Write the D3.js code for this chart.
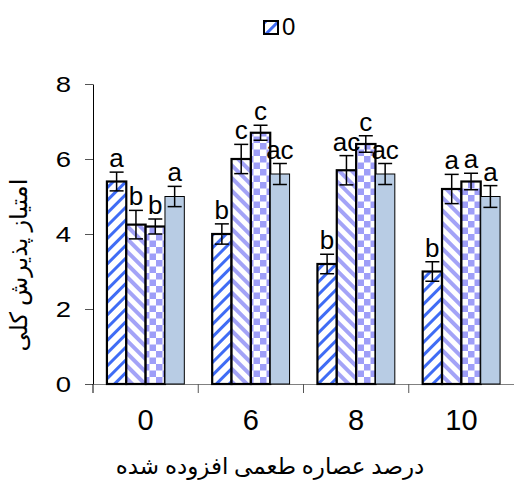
<!DOCTYPE html>
<html>
<head>
<meta charset="utf-8">
<script src="https://cdn.jsdelivr.net/npm/d3@7"></script>
<style>
  body { margin: 0; background: #fff; }
  svg { display: block; }
</style>
</head>
<body>
<div id="chart"></div>
<script>
// ---- data ----
var groups = ["0", "6", "8", "10"];
var series = ["s1", "s2", "s3", "s4"];
var means = [
  [5.4, 4.25, 4.2, 5.0],
  [4.0, 6.0, 6.7, 5.6],
  [3.2, 5.7, 6.4, 5.6],
  [3.0, 5.2, 5.4, 5.0]
];
var errs = [
  [0.25, 0.38, 0.2, 0.27],
  [0.27, 0.39, 0.2, 0.28],
  [0.26, 0.39, 0.22, 0.28],
  [0.26, 0.39, 0.22, 0.29]
];
var letters = [
  ["a", "b", "b", "a"],
  ["b", "c", "c", "ac"],
  ["b", "ac", "c", "ac"],
  ["b", "a", "a", "a"]
];
var yTicks = [0, 2, 4, 6, 8];
var legendLabels = ["0"];
var xTitle = "درصد عصاره طعمی افزوده شده";
var yTitle = "امتیاز پذیرش کلی";

var W = 514, H = 481;
var svg = d3.select("#chart").append("svg")
  .attr("width", W).attr("height", H);

// patterns for the fills
var defs = svg.append("defs");

var p1 = defs.append("pattern").attr("id", "pat1")
  .attr("patternUnits", "userSpaceOnUse")
  .attr("width", 9).attr("height", 9)
  .attr("patternTransform", "rotate(45)");
p1.append("rect").attr("width", 9).attr("height", 9).attr("fill", "#fff");
p1.append("rect").attr("x", 0).attr("width", 3).attr("height", 9).attr("fill", "#3f6cf5");

var p2 = defs.append("pattern").attr("id", "pat2")
  .attr("patternUnits", "userSpaceOnUse")
  .attr("width", 9).attr("height", 9)
  .attr("patternTransform", "rotate(-45)");
p2.append("rect").attr("width", 9).attr("height", 9).attr("fill", "#fff");
p2.append("rect").attr("x", 0).attr("width", 4).attr("height", 9).attr("fill", "#a3a3f7");

var p3 = defs.append("pattern").attr("id", "pat3")
  .attr("patternUnits", "userSpaceOnUse")
  .attr("width", 13).attr("height", 13);
p3.append("rect").attr("width", 13).attr("height", 13).attr("fill", "#fff");
p3.append("rect").attr("width", 6.5).attr("height", 6.5).attr("fill", "#9e9ef8");
p3.append("rect").attr("x", 6.5).attr("y", 6.5).attr("width", 6.5).attr("height", 6.5).attr("fill", "#9e9ef8");

var fills = ["url(#pat1)", "url(#pat2)", "url(#pat3)", "#b8cce4"];
var strokes = [2.2, 2.2, 2.2, 1];

// scales
var x = d3.scaleBand().domain(groups).range([93, 514]).padding(0);
var xs = d3.scaleBand().domain(series).range([0, x.bandwidth()])
  .paddingInner(0).paddingOuter(0.72);
var y = d3.scaleLinear().domain([0, 8]).range([384, 84]);

// y axis
var yAxis = svg.append("g")
  .attr("transform", "translate(93,0)")
  .call(d3.axisLeft(y).tickValues(yTicks).tickSize(8).tickSizeOuter(0).tickPadding(10));
yAxis.select(".domain").attr("stroke", "#000");
yAxis.selectAll(".tick line").attr("stroke", "#555");
// y labels are a bit wide in the original, stretch them sideways
yAxis.selectAll(".tick text")
  .attr("x", -22 / 1.25)
  .attr("transform", "scale(1.25,1)")
  .attr("font-family", "Arial, 'Liberation Sans', sans-serif")
  .attr("font-size", 22).attr("fill", "#000");

// x axis (labels) + group boundary ticks
var xAxis = svg.append("g")
  .attr("transform", "translate(0,384)")
  .call(d3.axisBottom(x).tickSize(0).tickPadding(25));
xAxis.select(".domain").attr("stroke", "#808080");
xAxis.selectAll("text")
  .attr("font-family", "Arial, 'Liberation Sans', sans-serif")
  .attr("font-size", 29).attr("fill", "#000");

svg.append("g").selectAll("line")
  .data(groups)
  .join("line")
  .attr("x1", d => x(d)).attr("x2", d => x(d))
  .attr("y1", 384).attr("y2", 393)
  .attr("stroke", d => d === groups[0] ? "#000" : "#555")
  .attr("stroke-width", 1);

// bars
var rows = [];
groups.forEach(function(g, gi) {
  series.forEach(function(s, si) {
    rows.push({ g: g, s: s, si: si, v: means[gi][si], e: errs[gi][si], l: letters[gi][si] });
  });
});

var bars = svg.append("g");
bars.selectAll("rect")
  .data(rows)
  .join("rect")
  .attr("x", d => x(d.g) + xs(d.s))
  .attr("y", d => y(d.v))
  .attr("width", xs.bandwidth())
  .attr("height", d => y(0) - y(d.v))
  .attr("fill", d => fills[d.si])
  .attr("stroke", "#000")
  .attr("stroke-width", d => strokes[d.si]);

// error bars
var eb = svg.append("g").attr("stroke", "#000").attr("stroke-width", 1.5);
var cap = 7;
rows.forEach(function(d) {
  var cx = x(d.g) + xs(d.s) + xs.bandwidth() / 2;
  eb.append("line").attr("x1", cx).attr("x2", cx).attr("y1", y(d.v + d.e)).attr("y2", y(d.v - d.e));
  eb.append("line").attr("x1", cx - cap).attr("x2", cx + cap).attr("y1", y(d.v + d.e)).attr("y2", y(d.v + d.e));
  eb.append("line").attr("x1", cx - cap).attr("x2", cx + cap).attr("y1", y(d.v - d.e)).attr("y2", y(d.v - d.e));
});

// significance letters
svg.append("g").selectAll("text")
  .data(rows)
  .join("text")
  .attr("x", d => x(d.g) + xs(d.s) + xs.bandwidth() / 2)
  .attr("y", d => y(d.v + d.e) - 5)
  .attr("text-anchor", "middle")
  .attr("font-family", "Arial, 'Liberation Sans', sans-serif")
  .attr("font-size", 26)
  .text(d => d.l);

// legend
var leg = svg.append("g").attr("transform", "translate(264,21)");
leg.selectAll("rect").data(legendLabels).join("rect")
  .attr("width", 14).attr("height", 13)
  .attr("fill", fills[0]).attr("stroke", "#000").attr("stroke-width", 2);
leg.selectAll("text").data(legendLabels).join("text")
  .attr("x", 18).attr("y", 14)
  .attr("font-family", "Arial, 'Liberation Sans', sans-serif")
  .attr("font-size", 24)
  .text(d => d);

// axis titles
svg.append("text")
  .attr("transform", "translate(27,265) rotate(-90)")
  .attr("text-anchor", "middle")
  .attr("font-family", "'Times New Roman', 'Liberation Serif', 'DejaVu Sans', serif")
  .attr("font-size", 24)
  .attr("direction", "rtl")
  .text(yTitle);

svg.append("text")
  .attr("x", 270).attr("y", 474)
  .attr("text-anchor", "middle")
  .attr("font-family", "'Times New Roman', 'Liberation Serif', 'DejaVu Sans', serif")
  .attr("font-size", 23)
  .attr("direction", "rtl")
  .text(xTitle);
</script>
</body>
</html>
